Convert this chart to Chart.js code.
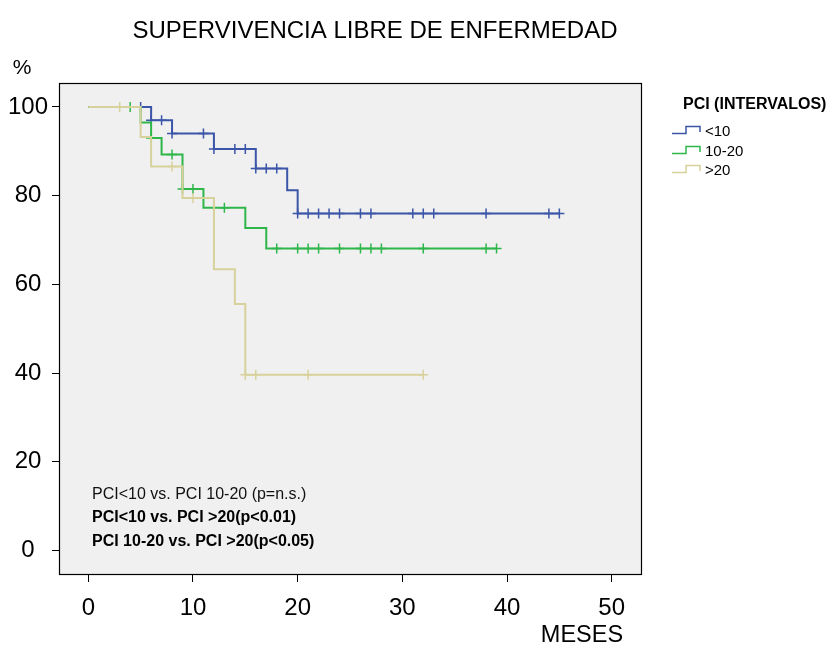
<!DOCTYPE html>
<html>
<head>
<meta charset="utf-8">
<script src="https://cdn.jsdelivr.net/npm/chart.js@4.4.1/dist/chart.umd.min.js"></script>
<style>
  html, body { margin: 0; padding: 0; background: #fff; }
  #wrap { width: 827px; height: 648px; }
</style>
</head>
<body>
<div id="wrap"><canvas id="km"></canvas></div>
<script>
const FONT = "'Liberation Sans', Arial, sans-serif";

const xTicks = [0, 10, 20, 30, 40, 50];
const yTicks = [0, 20, 40, 60, 80, 100];

const seriesNames = ["<10", "10-20", ">20"];
const seriesColors = ["#3b55a8", "#2fb64a", "#d7d19c"];

// PCI <10 : event times (months) and survival (%) after each step
const timesLow = [0, 6, 8, 12, 16, 19, 20, 45];
const survLow = [100, 97.0, 94.0, 90.5, 86.1, 81.2, 76.0, 76.0];
const censorLow = [5, 6, 7, 8, 11, 12, 14, 15, 16, 17, 18, 20, 21, 22, 23, 24, 26, 27, 31, 32, 33, 38, 44, 45];

// PCI 10-20
const timesMid = [0, 5, 6, 7, 9, 11, 15, 17, 39];
const survMid = [100, 96.5, 93.0, 89.3, 81.5, 77.3, 72.7, 68.1, 68.1];
const censorMid = [4, 6, 8, 9, 10, 13, 18, 20, 21, 22, 24, 26, 27, 28, 32, 38, 39];

// PCI >20
const timesHigh = [0, 5, 6, 9, 12, 14, 15, 32];
const survHigh = [100, 93.2, 86.6, 79.5, 63.4, 55.6, 39.6, 39.6];
const censorHigh = [3, 8, 10, 15, 16, 21, 32];

const notes = [
  { text: "PCI<10 vs. PCI 10-20 (p=n.s.)", bold: false },
  { text: "PCI<10 vs. PCI >20(p<0.01)", bold: true },
  { text: "PCI 10-20 vs. PCI >20(p<0.05)", bold: true },
];

function stepPts(times, surv) {
  return times.map((t, i) => ({ x: t, y: surv[i] }));
}
function survAt(times, surv, t) {
  let s = surv[0];
  for (let i = 0; i < times.length; i++) if (times[i] <= t) s = surv[i];
  return s;
}
function censorPts(times, surv, cens) {
  return cens.map(t => ({ x: t, y: survAt(times, surv, t) }));
}

const groups = [
  [timesHigh, survHigh, censorHigh, seriesColors[2]],
  [timesMid, survMid, censorMid, seriesColors[1]],
  [timesLow, survLow, censorLow, seriesColors[0]],
];

const datasets = [];
groups.forEach(([t, s, c, col]) => {
  datasets.push({
    type: "line",
    data: stepPts(t, s),
    stepped: true,
    borderColor: col,
    borderWidth: 2,
    pointRadius: 0,
    fill: false,
  });
  datasets.push({
    type: "scatter",
    data: censorPts(t, s, c),
    pointStyle: "cross",
    pointRadius: 5,
    borderColor: col,
    backgroundColor: col,
    borderWidth: 1.5,
    showLine: false,
  });
});

const decor = {
  id: "decor",
  beforeDraw(chart) {
    const { ctx, chartArea: a } = chart;
    ctx.save();
    ctx.fillStyle = "#f0f0f0";
    ctx.fillRect(a.left, a.top, a.right - a.left, a.bottom - a.top);
    ctx.restore();
  },
  afterDraw(chart) {
    const { ctx, chartArea: a } = chart;
    ctx.save();
    ctx.strokeStyle = "#000";
    ctx.lineWidth = 1.2;
    ctx.strokeRect(a.left + 0.5, a.top + 0.5, a.right - a.left, a.bottom - a.top);

    ctx.fillStyle = "#000";
    ctx.textBaseline = "middle";
    ctx.textAlign = "center";
    ctx.font = "24px " + FONT;
    ctx.fillText("SUPERVIVENCIA LIBRE DE ENFERMEDAD", 375, 31);
    ctx.font = "21px " + FONT;
    ctx.fillText("%", 22, 68);
    ctx.font = "23.5px " + FONT;
    ctx.fillText("MESES", 582, 636);

    // legend
    ctx.textAlign = "left";
    ctx.font = "bold 16px " + FONT;
    ctx.fillText("PCI (INTERVALOS)", 683, 105);
    ctx.font = "15px " + FONT;
    [132, 152, 171].forEach((cy, i) => {
      ctx.strokeStyle = seriesColors[i];
      ctx.lineWidth = 1.5;
      ctx.beginPath();
      ctx.moveTo(672, cy + 1.5);
      ctx.lineTo(686, cy + 1.5);
      ctx.lineTo(686, cy - 5.5);
      ctx.lineTo(700, cy - 5.5);
      ctx.lineTo(700, cy);
      ctx.stroke();
      ctx.fillStyle = "#000";
      ctx.fillText(seriesNames[i], 705, cy);
    });

    // comparison notes
    [495, 518, 542].forEach((y, i) => {
      ctx.font = (notes[i].bold ? "bold " : "") + "16px " + FONT;
      ctx.fillStyle = notes[i].bold ? "#000" : "#111";
      ctx.fillText(notes[i].text, 92, y);
    });
    ctx.restore();
  },
};

new Chart(document.getElementById("km"), {
  data: { datasets },
  options: {
    responsive: true,
    maintainAspectRatio: false,
    animation: false,
    layout: { padding: { top: 83, right: 186, left: 0, bottom: 0 } },
    scales: {
      x: {
        type: "linear",
        min: -2.8,
        max: 52.8,
        afterBuildTicks: (s) => { s.ticks = xTicks.map(v => ({ value: v })); },
        afterFit: (s) => { s.height = 74; },
        grid: { drawOnChartArea: false, drawTicks: true, tickLength: 8, color: "#000" },
        border: { display: true, color: "#000" },
        ticks: { color: "#000", font: { family: FONT, size: 24 }, padding: 12, maxRotation: 0, autoSkip: false },
      },
      y: {
        type: "linear",
        min: -5.3,
        max: 105.4,
        afterBuildTicks: (s) => { s.ticks = yTicks.map(v => ({ value: v })); },
        afterFit: (s) => { s.width = 59; },
        grid: { drawOnChartArea: false, drawTicks: true, tickLength: 7, color: "#000" },
        border: { display: true, color: "#000" },
        ticks: { color: "#000", font: { family: FONT, size: 24 }, padding: 4, crossAlign: "center", autoSkip: false },
      },
    },
    plugins: {
      legend: { display: false },
      tooltip: { enabled: false },
      title: { display: false },
    },
  },
  plugins: [decor],
});
</script>
</body>
</html>
